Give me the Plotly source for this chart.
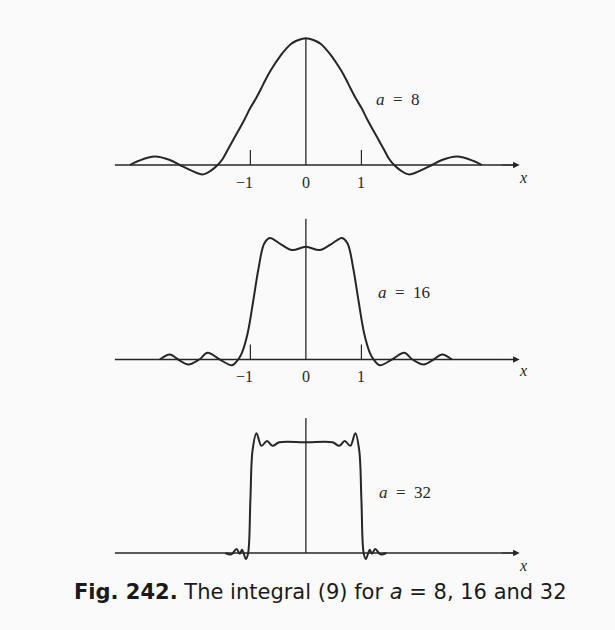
import plotly.graph_objects as go

# Integral (9) for three values of a, sampled along x (curves are symmetric about x = 0)
x_a8 = [-3.17, -3.02, -2.72, -2.45, -2.27, -2.06, -1.86, -1.71, -1.59, -1.5, -1.41, -1.32,
        -1.23, -1.11, -1.0, -0.9, -0.81, -0.72, -0.63, -0.45, -0.36, -0.27, -0.18, -0.06,
        0.0,
        0.06, 0.18, 0.27, 0.36, 0.45, 0.63, 0.72, 0.81, 0.9, 1.0, 1.11, 1.23, 1.32, 1.41,
        1.5, 1.59, 1.71, 1.86, 2.06, 2.27, 2.45, 2.72, 3.02, 3.17]
y_a8 = [0.0, 0.05, 0.105, 0.062, 0.0, -0.07, -0.118, -0.07, 0.0, 0.075, 0.186, 0.298,
        0.41, 0.56, 0.71, 0.826, 0.944, 1.068, 1.18, 1.366, 1.44, 1.503, 1.54, 1.569,
        1.574,
        1.569, 1.54, 1.503, 1.44, 1.366, 1.18, 1.068, 0.944, 0.826, 0.71, 0.56, 0.41, 0.298, 0.186,
        0.075, 0.0, -0.07, -0.118, -0.07, 0.0, 0.062, 0.105, 0.05, 0.0]

x_a16 = [-2.63, -2.45, -2.3, -2.12, -1.92, -1.77, -1.55, -1.33, -1.22, -1.15, -1.05, -0.95,
         -0.85, -0.75, -0.65, -0.45, -0.25, 0.0, 0.25, 0.45, 0.65, 0.75, 0.85, 0.95, 1.05,
         1.15, 1.22, 1.33, 1.55, 1.77, 1.92, 2.12, 2.3, 2.45, 2.63]
y_a16 = [0.0, 0.072, 0.0, -0.072, 0.0, 0.097, 0.0, -0.082, 0.0, 0.10, 0.375, 0.836,
         1.327, 1.673, 1.753, 1.66, 1.578, 1.625, 1.578, 1.66, 1.753, 1.673, 1.327, 0.836, 0.375,
         0.10, 0.0, -0.082, 0.0, 0.097, 0.0, -0.072, 0.0, 0.072, 0.0]

x_a32 = [-1.45, -1.34, -1.25, -1.19, -1.15, -1.08, -1.04, -1.0, -0.96, -0.89, -0.80, -0.70,
         -0.60, -0.48, 0.0, 0.48, 0.60, 0.70, 0.80, 0.89, 0.96, 1.0, 1.04, 1.08, 1.15, 1.19,
         1.25, 1.34, 1.45]
y_a32 = [0.0, -0.02, 0.057, -0.01, 0.047, -0.085, 0.0, 0.75, 1.46, 1.70, 1.52, 1.59,
         1.52, 1.57, 1.57, 1.57, 1.52, 1.59, 1.52, 1.70, 1.46, 0.75, 0.0, -0.085, 0.047, -0.01,
         0.057, -0.02, 0.0]

NB = "\u00a0"
panel_labels = [f"<i>a</i>{NB}{NB}={NB}{NB}8", f"<i>a</i>{NB}{NB}={NB}{NB}16",
                f"<i>a</i>{NB}{NB}={NB}{NB}32"]
tick_values = [-1, 0, 1]
tick_texts = ["\u22121", "0", "1"]
caption = f"<b>Fig. 242.</b> The integral (9) for <i>a</i>{NB}={NB}8, 16 and 32"

INK = "#262626"
SERIF = "Liberation Serif"

W, H = 615, 630
ML, MR = 106, 87
X_RANGE = [-3.6, 4.0]


def y_range(axis_px, px_per_unit):
    """y-range so that y = 0 lands on pixel row axis_px of the full-height plot area."""
    return [-(H - axis_px) / px_per_unit, axis_px / px_per_unit]


panels = [
    dict(x=x_a8, y=y_a8, ax="y", row=165, scale=80.5, ticks=True, vtop=1.574,
         label=(1.22, 0.81), xl_shift=-12),
    dict(x=x_a16, y=y_a16, ax="y2", row=359.5, scale=69.35, ticks=True, vtop=2.03,
         label=(1.26, 0.96), xl_shift=-11),
    dict(x=x_a32, y=y_a32, ax="y3", row=553, scale=70.5, ticks=False, vtop=1.915,
         label=(1.28, 0.865), xl_shift=-12),
]

fig = go.Figure()
annotations = []

for i, p in enumerate(panels):
    tick_h = 15 / p["scale"]
    # x-axis line
    fig.add_trace(go.Scatter(x=[-3.44, 3.78], y=[0, 0], mode="lines", yaxis=p["ax"],
                             line=dict(color=INK, width=1.3), hoverinfo="skip"))
    # vertical axis at x = 0
    fig.add_trace(go.Scatter(x=[0, 0], y=[0, p["vtop"]], mode="lines", yaxis=p["ax"],
                             line=dict(color=INK, width=1.3), hoverinfo="skip"))
    if p["ticks"]:
        fig.add_trace(go.Scatter(x=[-1, -1, None, 1, 1], y=[0, tick_h, None, 0, tick_h],
                                 mode="lines", yaxis=p["ax"],
                                 line=dict(color=INK, width=1.2), hoverinfo="skip"))
    # the curve
    fig.add_trace(go.Scatter(x=p["x"], y=p["y"], mode="lines", yaxis=p["ax"],
                             line=dict(color=INK, width=2.0, shape="spline", smoothing=1.0),
                             hoverinfo="skip"))

    yref = p["ax"]
    # arrowhead at the right end of the x-axis
    annotations.append(dict(x=3.85, y=0, xref="x", yref=yref, ax=3.5, ay=0,
                            axref="x", ayref=yref, text="", showarrow=True,
                            arrowhead=2, arrowsize=1.1, arrowwidth=1.2, arrowcolor=INK))
    annotations.append(dict(x=3.91, y=0, xref="x", yref=yref, text="<i>x</i>",
                            showarrow=False, yshift=p["xl_shift"],
                            font=dict(family=SERIF, size=16, color=INK)))
    if p["ticks"]:
        for v, t in zip(tick_values, tick_texts):
            annotations.append(dict(x=v, y=0, xref="x", yref=yref, text=t, showarrow=False,
                                    xanchor="right" if v < 0 else "center",
                                    xshift=5 if v < 0 else 0, yshift=-17,
                                    font=dict(family=SERIF, size=16, color=INK)))
    lx, ly = p["label"]
    annotations.append(dict(x=lx, y=ly, xref="x", yref=yref, text=panel_labels[i],
                            showarrow=False, xanchor="left",
                            font=dict(family=SERIF, size=17, color=INK)))

annotations.append(dict(x=(320 - ML) / (W - ML - MR), y=1 - 592 / H, xref="paper", yref="paper",
                        text=caption, showarrow=False, xanchor="center", yanchor="middle",
                        font=dict(family="DejaVu Sans", size=21, color="#1a1a1a")))

hidden = dict(visible=False, showgrid=False, zeroline=False, fixedrange=True)
fig.update_layout(
    width=W, height=H,
    margin=dict(l=ML, r=MR, t=0, b=0),
    paper_bgcolor="#fbfafa", plot_bgcolor="#fbfafa",
    showlegend=False,
    xaxis=dict(range=X_RANGE, **hidden),
    yaxis=dict(range=y_range(panels[0]["row"], panels[0]["scale"]), **hidden),
    yaxis2=dict(range=y_range(panels[1]["row"], panels[1]["scale"]), overlaying="y", **hidden),
    yaxis3=dict(range=y_range(panels[2]["row"], panels[2]["scale"]), overlaying="y", **hidden),
    annotations=annotations,
)

fig.write_html("out.html")
